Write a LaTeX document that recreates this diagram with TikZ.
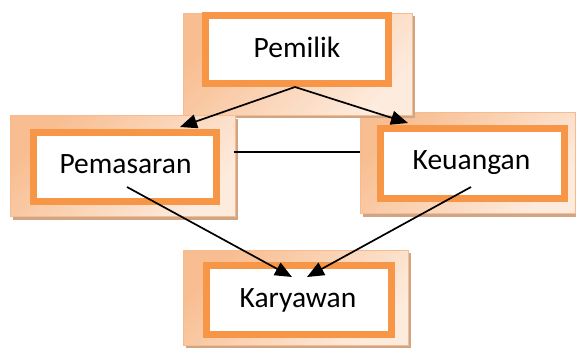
\documentclass[tikz,border=0pt]{standalone}
\usepackage{fontspec}
\setmainfont{Carlito}
\usetikzlibrary{arrows.meta,calc,shadows}
\definecolor{frameor}{HTML}{F79646}
\definecolor{outdark}{HTML}{F8BD90}
\definecolor{outlight}{HTML}{FDEBDD}
\definecolor{outedge}{HTML}{F6BB8E}
\definecolor{shadowc}{HTML}{CFA586}
\tikzset{
  outerbox/.style={draw=outedge, line width=1pt, top color=outdark, bottom color=outlight, shading angle=45,
    inner sep=0pt, rectangle},
  shadowbox/.style={fill=shadowc, draw=none, inner sep=0pt, rectangle},
  framebox/.style={draw=frameor, line width=7pt, fill=white, inner sep=0pt, rectangle},
  label/.style={font=\fontsize{29.5}{34}\selectfont, inner sep=0pt, anchor=base, text=black},
  conn/.style={line width=1.7pt, black},
  arr/.style={conn, -{Triangle[length=17pt,width=14pt]}}
}
\begin{document}
\begin{tikzpicture}[x=1pt,y=-1pt]
\useasboundingbox (0,0) rectangle (576,354);
% Keuangan
\node[shadowbox, minimum width=215pt, minimum height=101pt] (keuanganS) at (470.5,166) {};
\node[outerbox, minimum width=215pt, minimum height=101pt] (keuanganO) at (467.5,162.5) {};
\node[framebox, minimum width=184pt, minimum height=70pt] (keuanganF) at (472.5,163.5) {};
\node[label] (keuanganT) at (471.5,169) {Keuangan};
% Pemilik
\node[shadowbox, minimum width=229pt, minimum height=102pt] (pemilikS) at (300.5,67) {};
\node[outerbox, minimum width=229pt, minimum height=102pt] (pemilikO) at (297.5,64) {};
\node[framebox, minimum width=183pt, minimum height=68pt] (pemilikF) at (297,49.5) {};
\node[label] (pemilikT) at (297,57) {Pemilik};
% Pemasaran
\node[shadowbox, minimum width=225pt, minimum height=101pt] (pemasaranS) at (125.5,169) {};
\node[outerbox, minimum width=225pt, minimum height=101pt] (pemasaranO) at (122.5,165.5) {};
\node[framebox, minimum width=183pt, minimum height=69pt] (pemasaranF) at (125,167) {};
\node[label] (pemasaranT) at (125.5,173) {Pemasaran};
% Karyawan
\node[shadowbox, minimum width=225pt, minimum height=95pt] (karyawanS) at (298.5,300.5) {};
\node[outerbox, minimum width=225pt, minimum height=95pt] (karyawanO) at (295.5,297.5) {};
\node[framebox, minimum width=185pt, minimum height=69pt] (karyawanF) at (299,300) {};
\node[label] (karyawanT) at (298,307) {Karyawan};
% connectors
\coordinate (pmStart) at ($(pemilikF.south)+(-2,0)$);
\coordinate (psTip) at ($(pemasaranF.north)+(55,-2)$);
\coordinate (kuTip) at ($(keuanganF.north west)+(31,-2)$);
\draw[arr] (pmStart) -- (psTip);
\draw[arr] (pmStart) -- (kuTip);
\draw[conn] ($(pemasaranO.east)+(-2,-13.5)$) coordinate (hA) -- ($(keuanganO.west)+(0,-10.5)$) coordinate (hB);
\coordinate (psStart) at ($(pemasaranF.center)+(2,20)$);
\coordinate (kuStart) at ($(keuanganF.center)+(-1.5,23.5)$);
\draw[arr] (psStart) -- ($(karyawanF.center)+(-7,-23)$);
\draw[arr] (kuStart) -- ($(karyawanF.center)+(8,-23)$);
\end{tikzpicture}
\end{document}
